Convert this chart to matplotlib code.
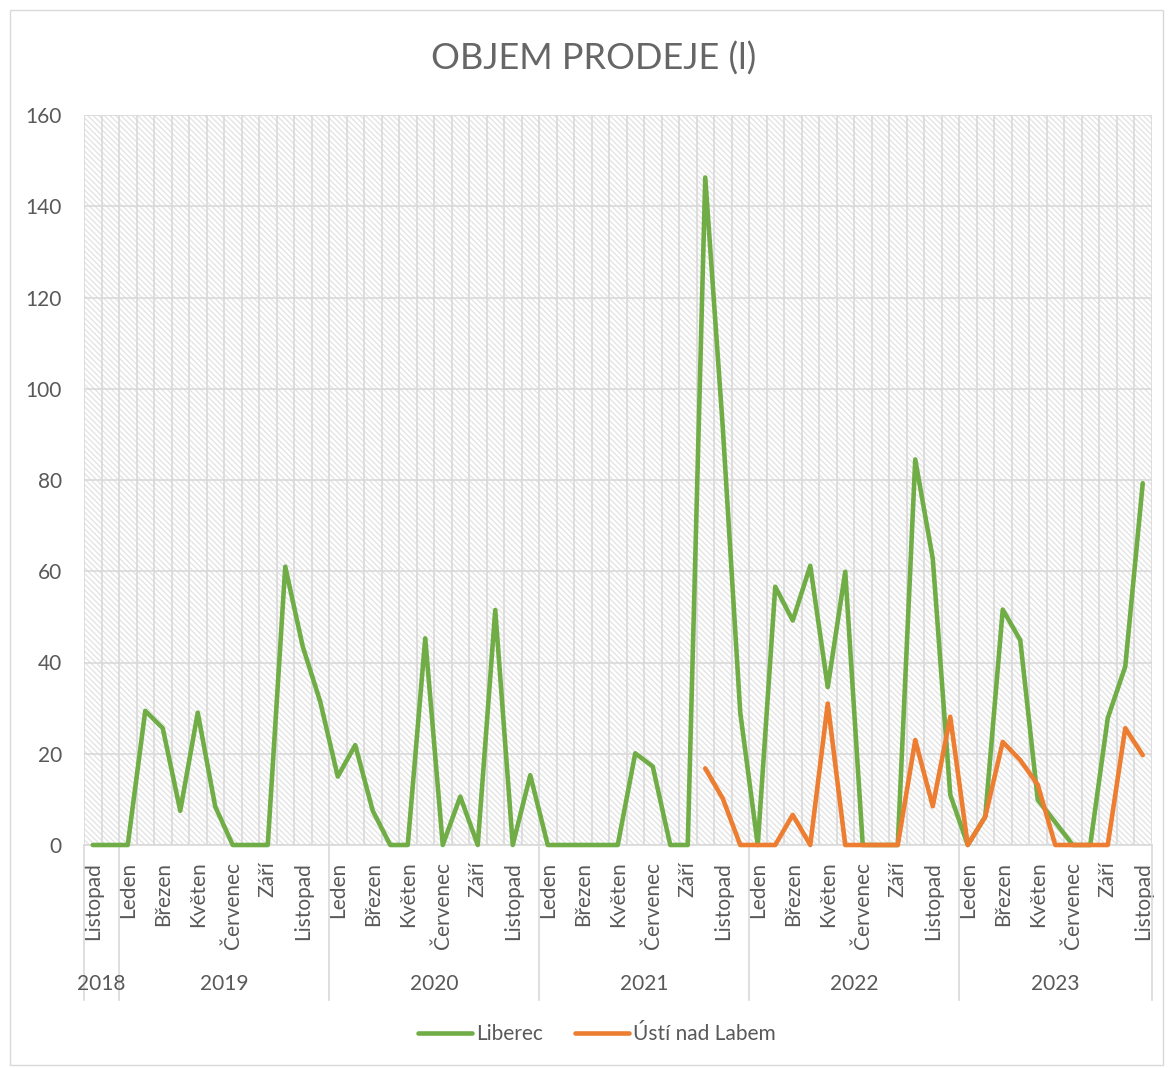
import matplotlib
matplotlib.use('Agg')
import matplotlib.pyplot as plt
from matplotlib.patches import Rectangle
from matplotlib.lines import Line2D
import matplotlib.transforms as mtransforms
import numpy as np

plt.rcParams['font.family'] = ['Lato', 'DejaVu Sans']
plt.rcParams['hatch.linewidth'] = 0.9
plt.rcParams['hatch.color'] = '#e2e2e2'

# ---------------- data ----------------
month_names = ['Leden', 'Únor', 'Březen', 'Duben', 'Květen', 'Červen',
               'Červenec', 'Srpen', 'Září', 'Říjen', 'Listopad', 'Prosinec']
months = ['Listopad', 'Prosinec'] + month_names * 4 + month_names[:11]
years = ['2018', '2019', '2020', '2021', '2022', '2023']
year_counts = [2, 12, 12, 12, 12, 11]

liberec = [0, 0, 0, 29.4, 25.6, 7.5, 29.0, 8.4, 0, 0, 0, 61.0, 43.5, 31.4, 15.0,
           21.9, 7.5, 0, 0, 45.3, 0, 10.6, 0, 51.5, 0, 15.3, 0, 0, 0, 0, 0,
           20.1, 17.2, 0, 0, 146.3, 91.6, 29.0, 0, 56.6, 49.2, 61.2, 34.6, 59.9,
           0, 0, 0, 84.5, 62.8, 11.0, 0, 6.2, 51.6, 44.9, 9.9, 5.0, 0, 0,
           27.8, 39.1, 79.3]
usti = [None] * 35 + [16.8, 10.2, 0, 0, 0, 6.6, 0, 31.0, 0, 0, 0, 0, 23.0, 8.5,
                      28.1, 0, 6.2, 22.6, 18.6, 13.2, 0, 0, 0, 0, 25.6, 19.7]

series_names = ['Liberec', 'Ústí nad Labem']
title = 'OBJEM PRODEJE (l)'

GREEN = '#70AD47'
ORANGE = '#ED7D31'
TXT = '#595959'
GRID = '#d9d9d9'
FS = 15

# ---------------- figure ----------------
W, H = 1169, 1068
fig = plt.figure(figsize=(W / 100, H / 100), dpi=100)
fig.patch.set_facecolor('white')

ax_left, ax_right, ax_top, ax_bottom = 84, 1151.5, 115, 845
ax = fig.add_axes([ax_left / W, 1 - ax_bottom / H,
                   (ax_right - ax_left) / W, (ax_bottom - ax_top) / H])

n = len(months)
x = np.arange(n)
ax.set_xlim(-0.5, n - 0.5)
ax.set_ylim(0, 160)
ax.set_facecolor('white')

# hatched plot area
ax.add_patch(Rectangle((0, 0), 1, 1, transform=ax.transAxes, facecolor='white',
                       edgecolor='#e2e2e2', hatch='\\\\\\\\\\\\', lw=0, zorder=0))

# grid
ax.set_yticks(np.arange(0, 161, 20))
ax.set_xticks(x[::2])
ax.set_xticklabels(months[::2], rotation=90, ha='center', va='top')
ax.set_xticks(np.arange(-0.5, n, 1), minor=True)
ax.yaxis.grid(True, color=GRID, lw=1.2, zorder=0.5)
ax.xaxis.grid(True, which='minor', color=GRID, lw=1.2, zorder=0.5)
ax.xaxis.grid(False, which='major')
ax.set_axisbelow(True)

ax.tick_params(axis='y', length=0, pad=16, labelsize=FS, labelcolor=TXT)
ax.tick_params(axis='x', which='both', length=0, pad=12, labelsize=FS, labelcolor=TXT)

for s in ['top', 'right', 'left']:
    ax.spines[s].set_visible(False)
ax.spines['bottom'].set_color(GRID)
ax.spines['bottom'].set_linewidth(1.2)

# data lines
ax.plot(x, liberec, color=GREEN, lw=3.3, solid_capstyle='round',
        solid_joinstyle='round', clip_on=False, zorder=3)
usti_arr = np.array([np.nan if v is None else v for v in usti], dtype=float)
ax.plot(x, usti_arr, color=ORANGE, lw=3.3, solid_capstyle='round',
        solid_joinstyle='round', clip_on=False, zorder=4)

# year-level axis
trans = mtransforms.blended_transform_factory(ax.transData, ax.transAxes)
sep_bottom = (ax_bottom - 1000) / (ax_bottom - ax_top)
year_y = (ax_bottom - 984) / (ax_bottom - ax_top)
start = -0.5
bounds = [start]
for yr, cnt in zip(years, year_counts):
    end = start + cnt
    ax.text((start + end) / 2, year_y, yr, transform=trans, ha='center',
            va='center', fontsize=FS, color=TXT)
    bounds.append(end)
    start = end
for b in bounds:
    ax.add_line(Line2D([b, b], [0, sep_bottom], transform=trans, color=GRID,
                       lw=1.2, clip_on=False))

# title
fig.text(594 / W, 1 - 59 / H, title, ha='center', va='center', fontsize=26,
         color='#666666')

# legend
handles = [Line2D([], [], color=GREEN, lw=3.3, solid_capstyle='round'),
           Line2D([], [], color=ORANGE, lw=3.3, solid_capstyle='round')]
fig.legend(handles, series_names, loc='center', bbox_to_anchor=(597 / W, 1 - 1034 / H),
           ncol=2, frameon=False, fontsize=FS, handlelength=2.6,
           handletextpad=0.2, columnspacing=1.5, labelcolor=TXT)

# chart border
fig.add_artist(Rectangle((10 / W, 1 - 1065 / H), (1163 - 10) / W, (1065 - 10) / H,
                         transform=fig.transFigure, fill=False, edgecolor=GRID, lw=1))

fig.savefig('out.png', dpi=100, facecolor='white')
